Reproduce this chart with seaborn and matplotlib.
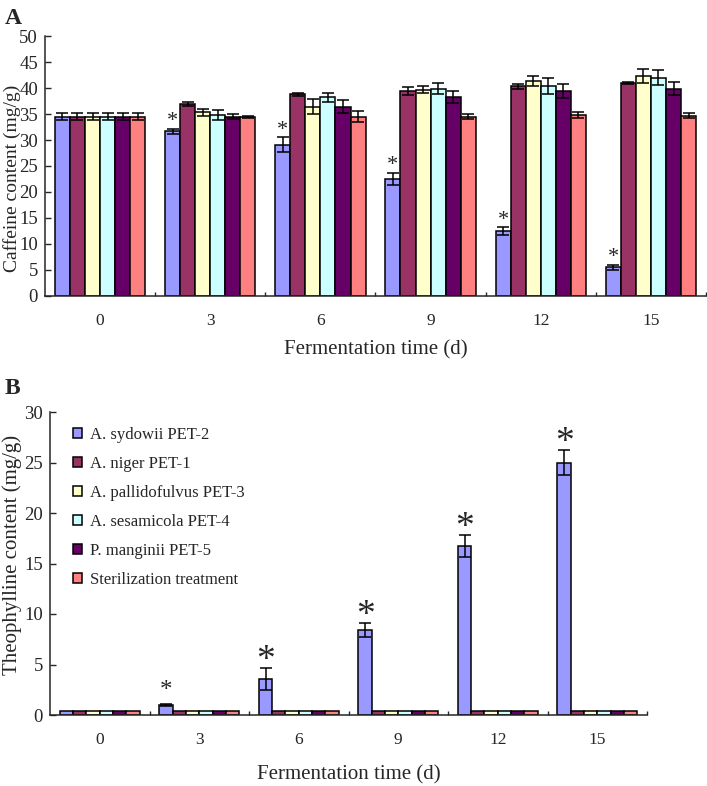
import numpy as np
import pandas as pd
import seaborn as sns
from matplotlib import pyplot as plt
from matplotlib.ticker import FixedLocator

days = ['0', '3', '6', '9', '12', '15']
strains = ['A. sydowii PET-2', 'A. niger PET-1', 'A. pallidofulvus PET-3',
           'A. sesamicola PET-4', 'P. manginii PET-5', 'Sterilization treatment']
colors = ['#9999FF', '#993366', '#FFFFCC', '#CCFFFF', '#660066', '#FF8080']

# caffeine (mg/g), one list per strain, over days
caf_sydowii = [34.5, 31.7, 29.1, 22.5, 12.5, 5.5]
caf_niger = [34.5, 36.9, 38.8, 39.4, 40.3, 41.0]
caf_pallido = [34.5, 35.3, 36.4, 39.7, 41.3, 42.4]
caf_sesami = [34.5, 34.8, 38.2, 39.9, 40.4, 42.0]
caf_mangin = [34.5, 34.5, 36.4, 38.3, 39.4, 39.9]
caf_steril = [34.5, 34.5, 34.5, 34.5, 34.8, 34.7]
caf_err_sydowii = [0.7, 0.45, 1.4, 1.2, 0.7, 0.55]
caf_err_niger = [0.7, 0.4, 0.3, 0.8, 0.4, 0.2]
caf_err_pallido = [0.7, 0.6, 1.4, 0.7, 1.0, 1.35]
caf_err_sesami = [0.7, 1.0, 0.9, 1.1, 1.5, 1.5]
caf_err_mangin = [0.7, 0.5, 1.2, 1.2, 1.4, 1.2]
caf_err_steril = [0.7, 0.2, 1.0, 0.5, 0.55, 0.4]

# theophylline (mg/g)
theo_sydowii = [0.4, 0.95, 3.6, 8.4, 16.7, 25.0]
theo_err_sydowii = [0.0, 0.1, 1.1, 0.7, 1.1, 1.2]
theo_other = [0.4, 0.4, 0.4, 0.4, 0.4, 0.4]

caf_vals = [caf_sydowii, caf_niger, caf_pallido, caf_sesami, caf_mangin, caf_steril]
caf_errs = [caf_err_sydowii, caf_err_niger, caf_err_pallido, caf_err_sesami,
            caf_err_mangin, caf_err_steril]
theo_vals = [theo_sydowii] + [theo_other] * 5
theo_errs = [theo_err_sydowii] + [[0.0] * 6] * 5

star_a = [False, True, True, True, True, True]
star_b_size = [0, 18, 27, 27, 27, 27]


def long_df(vals, errs):
    rows = []
    for s, v, e in zip(strains, vals, errs):
        for d, vv, ee in zip(days, v, e):
            rows.append({'day': d, 'strain': s, 'value': vv, 'err': ee})
    return pd.DataFrame(rows)


sns.set_style("ticks")
plt.rcParams['font.family'] = ['Liberation Serif', 'DejaVu Serif']
plt.rcParams['axes.linewidth'] = 1.1

fig = plt.figure(figsize=(7.07, 7.86), dpi=100)
ax1 = fig.add_axes([45 / 707, 1 - 296 / 786, 661 / 707, 260 / 786])
ax2 = fig.add_axes([50 / 707, 1 - 715 / 786, 597 / 707, 303 / 786])


def draw(ax, df, width, ylim, step):
    sns.barplot(data=df, x='day', y='value', hue='strain', order=days,
                hue_order=strains, palette=colors, width=width, errorbar=None,
                edgecolor='black', linewidth=1.1, saturation=1, ax=ax)
    conts = list(ax.containers)[:len(strains)]
    tops = {}
    for i, cont in enumerate(conts):
        sub = df[df['strain'] == strains[i]].set_index('day').loc[days]
        for bar, v, e, d in zip(cont.patches, sub['value'], sub['err'], days):
            xc = bar.get_x() + bar.get_width() / 2
            if e > 0:
                ax.errorbar(xc, v, yerr=e, fmt='none', ecolor='black',
                            elinewidth=1.1, capsize=4, capthick=1.1)
            if i == 0:
                tops[d] = (xc, v + e)
    ax.set_ylim(*ylim)
    ax.set_xlim(-0.5, 5.5)
    ax.set_yticks(np.arange(ylim[0], ylim[1] + 0.1, step))
    ax.xaxis.set_minor_locator(FixedLocator(np.arange(0.5, 6, 1)))
    ax.tick_params(axis='x', which='major', length=0, labelsize=12.5, pad=12)
    ax.tick_params(axis='x', which='minor', direction='in', length=3, width=1)
    ax.tick_params(axis='y', direction='in', length=4, width=1, labelsize=13.5, pad=5)
    sns.despine(ax=ax)
    return tops


df_a = long_df(caf_vals, caf_errs)
tops_a = draw(ax1, df_a, 0.82, (0, 50), 5)
ax1.legend_.remove()
ax1.set_xlabel('Fermentation time (d)', fontsize=15, labelpad=8)
ax1.set_ylabel('Caffeine content (mg/g)', fontsize=14)
ax1.yaxis.set_label_coords(21 / 707, 1 - 178 / 786, transform=fig.transFigure)
for d, s in zip(days, star_a):
    if s:
        xc, yt = tops_a[d]
        ax1.annotate('*', (xc, yt), xytext=(0, 2), textcoords='offset points',
                     ha='center', va='baseline', fontsize=16)

df_b = long_df(theo_vals, theo_errs)
tops_b = draw(ax2, df_b, 0.8, (0, 30), 5)
ax2.set_xlabel('Fermentation time (d)', fontsize=15, labelpad=13)
ax2.set_ylabel('Theophylline content (mg/g)', fontsize=15)
ax2.yaxis.set_label_coords(22 / 707, 1 - 555 / 786, transform=fig.transFigure)
for d, fs in zip(days, star_b_size):
    if fs:
        xc, yt = tops_b[d]
        off = 5 if fs < 20 else -1.5
        ax2.annotate('*', (xc, yt), xytext=(0, off), textcoords='offset points',
                     ha='center', va='baseline', fontsize=fs)
ax2.legend(loc='upper left', bbox_to_anchor=(0.014, 1.0), frameon=False,
           fontsize=12, handlelength=0.5, handleheight=0.5, handletextpad=0.5,
           labelspacing=0.78)

fig.text(0.007, 0.99, 'A', fontsize=17, fontweight='bold', va='top')
fig.text(0.007, 1 - 378 / 786, 'B', fontsize=17, fontweight='bold', va='top')

fig.savefig('out.png', dpi=100)
